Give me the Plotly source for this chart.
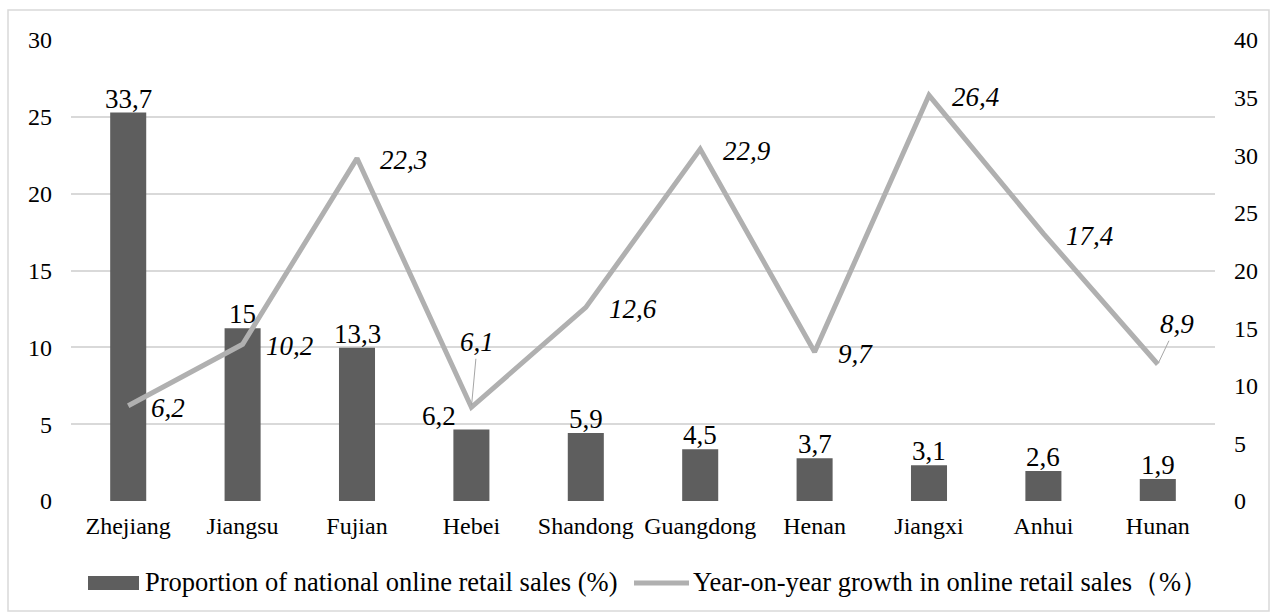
import plotly.graph_objects as go

provinces = ["Zhejiang", "Jiangsu", "Fujian", "Hebei", "Shandong",
             "Guangdong", "Henan", "Jiangxi", "Anhui", "Hunan"]
share = [33.7, 15, 13.3, 6.2, 5.9, 4.5, 3.7, 3.1, 2.6, 1.9]
growth = [6.2, 10.2, 22.3, 6.1, 12.6, 22.9, 9.7, 26.4, 17.4, 8.9]
left_ticks = [0, 5, 10, 15, 20, 25, 30]
right_ticks = [0, 5, 10, 15, 20, 25, 30, 35, 40]
bar_name = "Proportion of national online retail sales (%)"
line_name = "Year-on-year growth in online retail sales（%）"

FONT = "Liberation Serif, Times New Roman, serif"
BAR_COLOR = "#5E5E5E"
LINE_COLOR = "#B0B0B0"
W, H = 1271, 614
ML, MR, MT, MB = 71, 56, 40, 113
pw = W - ML - MR
ph = H - MT - MB


def px_x(x):
    return (x - ML) / pw


def px_y(y):
    return (H - MB - y) / ph


def fmt(v):
    return ("%g" % v).replace(".", ",")


fig = go.Figure()
fig.add_trace(go.Bar(
    x=provinces, y=share, yaxis="y", name=bar_name,
    marker=dict(color=BAR_COLOR, line=dict(width=0)),
    width=0.315, showlegend=False,
))
fig.add_trace(go.Scatter(
    x=provinces, y=growth, yaxis="y2", mode="lines", name=line_name,
    line=dict(color=LINE_COLOR, width=5), showlegend=False,
))

LBL = dict(family=FONT, size=27, color="#000000")
annotations = []
# bar labels
for p, v in zip(provinces, share):
    annotations.append(dict(
        x=p, y=v, xref="x", yref="y", text=fmt(v), showarrow=False,
        yanchor="bottom", xanchor="center", yshift=-3,
        xshift=-32 if p == "Hebei" else 0, font=LBL,
    ))

# line labels
for p, v in zip(provinces, growth):
    txt = "<i>" + fmt(v) + "</i>"
    if p == "Hebei":
        annotations.append(dict(
            x=p, y=v, xref="x", yref="y2", text=txt,
            showarrow=True, arrowhead=0, arrowwidth=1, arrowcolor="#A6A6A6",
            ax=6, ay=-65, standoff=2, font=LBL,
        ))
    elif p == "Hunan":
        annotations.append(dict(
            x=p, y=v, xref="x", yref="y2", text=txt,
            showarrow=True, arrowhead=0, arrowwidth=1, arrowcolor="#A6A6A6",
            ax=19, ay=-40, standoff=2, font=LBL,
        ))
    else:
        annotations.append(dict(
            x=p, y=v, xref="x", yref="y2", text=txt,
            showarrow=False, xanchor="left", yanchor="middle",
            xshift=21, yshift=-2, font=LBL,
        ))

# custom legend (text)
LEG = dict(family=FONT, size=26.5, color="#000000")
annotations.append(dict(x=px_x(143), y=px_y(582), xref="paper", yref="paper",
                        text=bar_name, showarrow=False, xanchor="left",
                        yanchor="middle", font=LEG))
annotations.append(dict(x=px_x(691), y=px_y(582), xref="paper", yref="paper",
                        text=line_name, showarrow=False, xanchor="left",
                        yanchor="middle", font=LEG))

shapes = [
    dict(type="rect", xref="paper", yref="paper",
         x0=px_x(8), x1=px_x(1269), y0=px_y(611), y1=px_y(10),
         line=dict(color="#D9D9D9", width=1.5), fillcolor="rgba(0,0,0,0)",
         layer="below"),
    # legend symbols
    dict(type="rect", xref="paper", yref="paper",
         x0=px_x(88), x1=px_x(139), y0=px_y(590), y1=px_y(576),
         line=dict(width=0), fillcolor=BAR_COLOR),
    dict(type="line", xref="paper", yref="paper",
         x0=px_x(634), x1=px_x(689), y0=px_y(583), y1=px_y(583),
         line=dict(color=LINE_COLOR, width=5)),
]

TICK = dict(family=FONT, size=24, color="#000000")
fig.update_layout(
    width=W, height=H,
    margin=dict(l=ML, r=MR, t=MT, b=MB),
    paper_bgcolor="#FFFFFF", plot_bgcolor="#FFFFFF",
    font=dict(family=FONT, size=24, color="#000000"),
    showlegend=False,
    xaxis=dict(type="category", showgrid=False, zeroline=False,
               showline=False, ticks="", ticklabelstandoff=8,
               tickfont=TICK),
    yaxis=dict(side="right", range=[0, 40], tickvals=right_ticks,
               showgrid=False, zeroline=False, showline=False, ticks="",
               ticklabelstandoff=18, tickfont=TICK),
    yaxis2=dict(side="left", overlaying="y", range=[0, 30], tickvals=left_ticks,
                showgrid=True, gridcolor="#D9D9D9", gridwidth=1.5,
                zeroline=False, showline=False, ticks="",
                ticklabelstandoff=18, tickfont=TICK),
    annotations=annotations,
    shapes=shapes,
)

fig.write_html("out.html")
